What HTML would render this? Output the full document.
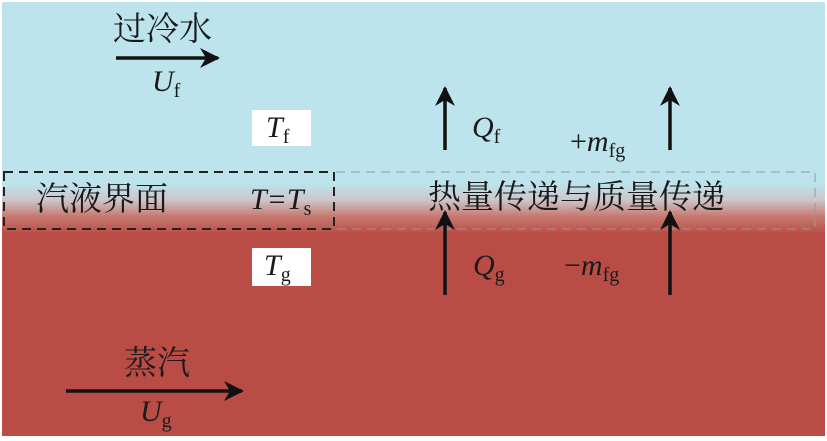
<!DOCTYPE html>
<html><head><meta charset="utf-8"><style>
body{margin:0;width:827px;height:438px;overflow:hidden;background:#fff}
.bg{position:absolute;left:2px;top:2px;width:823px;height:434px;background:linear-gradient(to bottom,#bde3ec 0px,#bde3ec 182px,#cdc6c9 198px,#c77b72 214px,#b94d45 232px,#b94d45 100%)}
.t{position:absolute;font-family:"Liberation Serif","Noto Serif CJK SC",serif;font-size:33px;line-height:40px;color:#1a1a1a;white-space:nowrap}
.m{font-size:30px}
.i{font-style:italic}
sub{font-style:normal;font-size:20px;vertical-align:-6px}
.box{position:absolute;background:#fff}
</style></head><body>
<div class="bg"></div>
<svg width="827" height="438" style="position:absolute;left:0;top:0">
<defs><marker id="a" viewBox="0 0 10 10" refX="9" refY="5" markerWidth="24" markerHeight="20" markerUnits="userSpaceOnUse" orient="auto"><path d="M0,0 L10,5 L0,10 L3,5z" fill="#111"/></marker></defs>
<rect x="4" y="172" width="330" height="57" fill="none" stroke="#222" stroke-width="2" stroke-dasharray="9,6"/>
<path d="M336,172 H815 V229 H336" fill="none" stroke="#999" stroke-opacity="0.5" stroke-width="2" stroke-dasharray="9,6"/>
<line x1="116" y1="58" x2="218" y2="58" stroke="#111" stroke-width="3.5" marker-end="url(#a)"/>
<line x1="66" y1="391" x2="242" y2="391" stroke="#111" stroke-width="3.5" marker-end="url(#a)"/>
<line x1="445" y1="150" x2="445" y2="88" stroke="#111" stroke-width="3.5" marker-end="url(#a)"/>
<line x1="670" y1="150" x2="670" y2="88" stroke="#111" stroke-width="3.5" marker-end="url(#a)"/>
<line x1="445" y1="295" x2="445" y2="212" stroke="#111" stroke-width="3.5" marker-end="url(#a)"/>
<line x1="670" y1="295" x2="670" y2="212" stroke="#111" stroke-width="3.5" marker-end="url(#a)"/>
</svg>
<div class="t" style="left:113px;top:10px">过冷水</div>
<div class="t m i" style="left:152px;top:62px">U<sub>f</sub></div>
<div class="box" style="left:252px;top:110px;width:59px;height:36px"></div>
<div class="t m i" style="left:266px;top:108px">T<sub>f</sub></div>
<div class="t m i" style="left:472px;top:108px">Q<sub>f</sub></div>
<div class="t m" style="left:570px;top:122px">+<span class="i">m</span><sub>fg</sub></div>
<div class="t" style="left:36px;top:180px">汽液界面</div>
<div class="t m i" style="left:250px;top:180px">T=T<sub>s</sub></div>
<div class="t" style="left:428px;top:178px">热量传递与质量传递</div>
<div class="box" style="left:252px;top:248px;width:59px;height:38px"></div>
<div class="t m i" style="left:264px;top:246px">T<sub>g</sub></div>
<div class="t m i" style="left:473px;top:246px">Q<sub>g</sub></div>
<div class="t m" style="left:564px;top:246px">−<span class="i">m</span><sub>fg</sub></div>
<div class="t" style="left:124px;top:344px">蒸汽</div>
<div class="t m i" style="left:140px;top:392px">U<sub>g</sub></div>
</body></html>
